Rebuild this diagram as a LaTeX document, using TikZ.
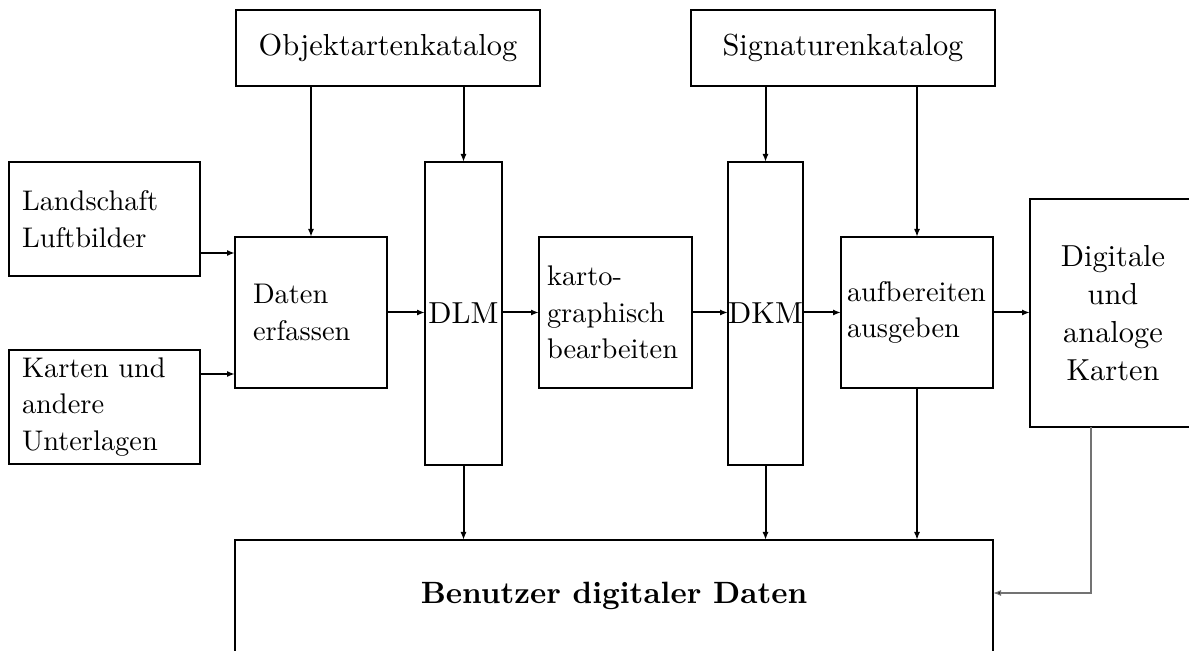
\documentclass[tikz,border=0pt]{standalone}
\usepackage{fontspec}
\setmainfont{lmroman10-regular.otf}[BoldFont=lmroman10-bold.otf]
\usetikzlibrary{arrows.meta}
\begin{document}
\begin{tikzpicture}[x=0.5pt,y=-0.5pt,
  box/.style={draw,line width=1pt,inner sep=0pt,outer sep=0pt},
  ctext/.style={font=\fontsize{15.2}{19}\selectfont,align=center},
  ltext/.style={font=\fontsize{14.2}{18.3}\selectfont,align=left},
  arr/.style={line width=1pt,-{Latex[length=4pt,width=3pt]}},
  feed/.style={line width=0.6pt,draw=black!55,-{Latex[length=4pt,width=3pt,fill=black]}}]
\clip (0,0) rectangle (1189,651);

% catalogues on top
\node[box,ctext,minimum width=152pt,minimum height=38pt] (objk) at (388,48) {Objektartenkatalog};
\node[box,ctext,minimum width=152pt,minimum height=38pt] (sig) at (843,48) {Signaturenkatalog};

% sources
\node[box,ltext,inner xsep=6.5pt,text width=82.5pt,minimum height=57pt] (land) at (104.5,219) {Landschaft\\Luftbilder};
\node[box,ltext,inner xsep=6.5pt,text width=82.5pt,minimum height=57pt] (kart) at (104.5,407) {Karten und\\andere\\Unterlagen};

% processing chain
\node[box,ltext,inner xsep=9pt,text width=58pt,minimum height=75.5pt] (dat) at (311,312.5) {Daten\\erfassen};
\node[box,ctext,minimum width=38.5pt,minimum height=151.5pt] (dlm) at (463.5,313.5) {DLM};
\node[box,ltext,inner xsep=4pt,text width=68.5pt,minimum height=75.5pt] (kar) at (615.5,312.5) {karto-\\graphisch\\bearbeiten};
\node[box,ctext,minimum width=37.5pt,minimum height=151.5pt] (dkm) at (765.5,313.5) {DKM};
\node[box,ltext,inner xsep=3pt,text width=70pt,minimum height=75.5pt] (auf) at (917,312.5) {aufbereiten\\ausgeben};
\node[box,ctext,minimum width=83pt,minimum height=114pt] (dig) at (1113,313) {Digitale\\und\\analoge\\Karten};

% users
\node[box,font=\fontsize{15.4}{19}\selectfont\bfseries,minimum width=379pt,minimum height=56pt] (ben) at (614,596) {Benutzer digitaler Daten};

% catalogue inputs
\draw[arr] (dat.north |- objk.south) -- (dat.north);
\draw[arr] (dlm.north |- objk.south) -- (dlm.north);
\draw[arr] (dkm.north |- sig.south) -- (dkm.north);
\draw[arr] (auf.north |- sig.south) -- (auf.north);

% source inputs
\draw[arr] ([yshift=-17pt]land.east) -- ([yshift=-17pt]land.east -| dat.west);
\draw[arr] ([yshift=16.5pt]kart.east) -- ([yshift=16.5pt]kart.east -| dat.west);

% main flow
\draw[arr] (dat.east) -- (dat.east -| dlm.west);
\draw[arr] (dat.east -| dlm.east) -- (kar.west);
\draw[arr] (kar.east) -- (kar.east -| dkm.west);
\draw[arr] (kar.east -| dkm.east) -- (auf.west);
\draw[arr] (auf.east) -- (auf.east -| dig.west);

% outputs to the users
\draw[arr] (dlm.south) -- (dlm.south |- ben.north);
\draw[arr] (dkm.south) -- (dkm.south |- ben.north);
\draw[arr] (auf.south) -- (auf.south |- ben.north);
\draw[feed] ([xshift=-11pt]dig.south) |- ([yshift=1.5pt]ben.east);
\end{tikzpicture}
\end{document}
